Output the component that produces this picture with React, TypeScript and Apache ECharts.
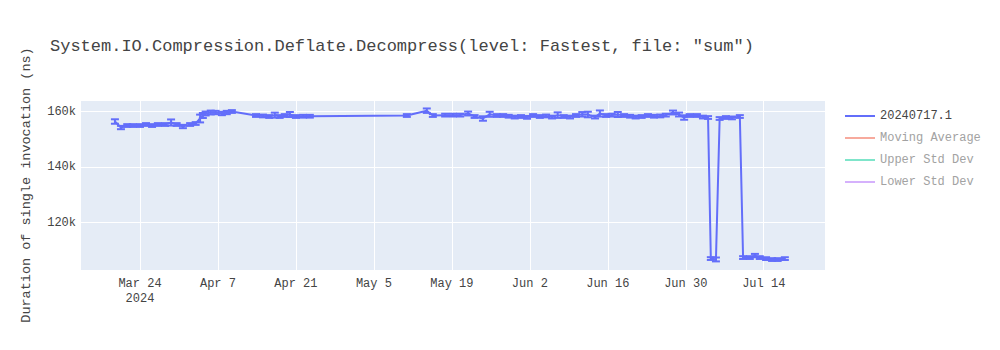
import React, { useEffect, useRef } from "react";
import * as echarts from "echarts";

// ---- data ----
const runDates: string[] = [
  "2024-03-19T12:00Z", "2024-03-20T14:00Z", "2024-03-21T17:00Z", "2024-03-22T17:00Z", "2024-03-24T00:00Z",
  "2024-03-25T02:00Z", "2024-03-26T04:00Z", "2024-03-27T05:00Z", "2024-03-28T12:00Z", "2024-03-29T14:00Z",
  "2024-03-30T14:00Z", "2024-03-31T17:00Z", "2024-04-02T00:00Z", "2024-04-03T00:00Z", "2024-04-03T19:00Z",
  "2024-04-04T07:00Z", "2024-04-04T19:00Z", "2024-04-05T17:00Z", "2024-04-06T14:00Z", "2024-04-07T17:00Z",
  "2024-04-08T14:00Z", "2024-04-09T12:00Z", "2024-04-13T20:00Z", "2024-04-15T02:00Z", "2024-04-16T05:00Z",
  "2024-04-17T05:00Z", "2024-04-18T02:00Z", "2024-04-19T00:00Z", "2024-04-19T22:00Z", "2024-04-21T00:00Z",
  "2024-04-22T07:00Z", "2024-04-23T12:00Z", "2024-05-10T22:00Z", "2024-05-14T12:00Z", "2024-05-15T14:00Z",
  "2024-05-17T19:00Z", "2024-05-19T05:00Z", "2024-05-20T12:00Z", "2024-05-21T22:00Z", "2024-05-23T02:00Z",
  "2024-05-24T14:00Z", "2024-05-25T19:00Z", "2024-05-27T02:00Z", "2024-05-28T05:00Z", "2024-05-29T05:00Z",
  "2024-05-30T07:00Z", "2024-05-31T10:00Z", "2024-06-01T12:00Z", "2024-06-02T14:00Z", "2024-06-03T19:00Z",
  "2024-06-04T22:00Z", "2024-06-06T00:00Z", "2024-06-07T00:00Z", "2024-06-08T02:00Z", "2024-06-09T05:00Z",
  "2024-06-10T07:00Z", "2024-06-11T10:00Z", "2024-06-12T10:00Z", "2024-06-13T17:00Z", "2024-06-14T14:00Z",
  "2024-06-15T17:00Z", "2024-06-16T17:00Z", "2024-06-17T19:00Z", "2024-06-18T22:00Z", "2024-06-20T00:00Z",
  "2024-06-21T00:00Z", "2024-06-22T02:00Z", "2024-06-23T05:00Z", "2024-06-24T07:00Z", "2024-06-25T10:00Z",
  "2024-06-26T10:00Z", "2024-06-27T17:00Z", "2024-06-28T19:00Z", "2024-06-29T17:00Z", "2024-06-30T17:00Z",
  "2024-07-02T00:00Z", "2024-07-03T02:00Z", "2024-07-04T00:00Z", "2024-07-04T12:00Z", "2024-07-05T10:00Z",
  "2024-07-06T02:00Z", "2024-07-07T05:00Z", "2024-07-08T07:00Z", "2024-07-09T17:00Z", "2024-07-10T07:00Z",
  "2024-07-11T12:00Z", "2024-07-12T10:00Z", "2024-07-13T07:00Z", "2024-07-14T10:00Z", "2024-07-15T12:00Z",
  "2024-07-16T12:00Z", "2024-07-17T19:00Z",
];

const durations: number[] = [
  156400, 154230, 154950, 154950, 154950,
  155320, 154950, 155320, 155320, 156040,
  155320, 154600, 155320, 155680, 157480,
  158560, 159280, 159640, 159640, 159280,
  159640, 160000, 158560, 158400, 158200,
  158700, 158200, 158560, 158920, 158200,
  158300, 158300, 158560, 160300, 158560,
  158700, 158700, 158700, 159280, 158200,
  157480, 159000, 158560, 158560, 158300,
  158000, 158200, 157900, 158560, 158200,
  158400, 158000, 158700, 158200, 158000,
  158560, 159000, 158920, 158000, 159280,
  158560, 158700, 158920, 158560, 158300,
  158000, 158200, 158560, 158300, 158400,
  158700, 159640, 158920, 157840, 158560,
  158560, 158000, 157840, 107020, 106700,
  157480, 157840, 157700, 158200, 107380,
  107380, 108100, 107380, 107000, 106660,
  106660, 107000,
];

const stdErrors: number[] = [
  800, 600, 500, 500, 500,
  500, 500, 500, 500, 1100,
  500, 600, 500, 500, 1400,
  900, 700, 700, 600, 600,
  600, 500, 500, 500, 500,
  900, 500, 500, 900, 500,
  500, 500, 500, 800, 500,
  500, 500, 500, 700, 500,
  800, 900, 500, 500, 500,
  500, 500, 500, 500, 500,
  500, 500, 1000, 500, 500,
  500, 800, 1000, 500, 1100,
  500, 500, 900, 500, 500,
  500, 500, 500, 500, 500,
  500, 700, 700, 800, 500,
  500, 500, 500, 500, 700,
  500, 500, 500, 500, 500,
  500, 600, 500, 500, 500,
  500, 500,
];

const seriesNames = ["20240717.1", "Moving Average", "Upper Std Dev", "Lower Std Dev"];
const seriesColors = ["#636efa", "#EF553B", "#00cc96", "#ab63fa"];
const xTickLabels = ["Mar 24\n2024", "Apr 7", "Apr 21", "May 5", "May 19", "Jun 2", "Jun 16", "Jun 30", "Jul 14"];
const xOrigin = "2024-03-24T00:00Z";
const xRangeStart = "2024-03-13T05:30Z";
const xRangeEnd = "2024-07-25T00:00Z";
const yRange = [102900, 164150];

const titleText = 'System.IO.Compression.Deflate.Decompress(level: Fastest, file: "sum")';
const yTitle = "Duration of single invocation (ns)";

const FORTNIGHT = 14 * 86400000;
const toFortnights = (s: string) => (Date.parse(s) - Date.parse(xOrigin)) / FORTNIGHT;

const FONT = "'Liberation Mono', 'DejaVu Sans Mono', monospace";

export default function App() {
  const ref = useRef<HTMLDivElement>(null);
  useEffect(() => {
    if (!ref.current) return;
    const chart = echarts.init(ref.current, undefined, { renderer: "svg" });
    const mainData = runDates.map((d, i) => [toFortnights(d), durations[i]]);
    const errData = runDates.map((d, i) => [toFortnights(d), durations[i] - stdErrors[i], durations[i] + stdErrors[i]]);

    chart.setOption({
      animation: false,
      backgroundColor: "#ffffff",
      title: {
        text: titleText,
        left: 45,
        top: 33,
        textStyle: { fontFamily: FONT, fontSize: 17, fontWeight: "normal", color: "#444" },
      },
      grid: {
        left: 80,
        right: 175,
        top: 100,
        bottom: 80,
        show: true,
        backgroundColor: "#e5ecf6",
        borderWidth: 0,
      },
      legend: {
        orient: "vertical",
        left: 840,
        top: 104,
        icon: "rect",
        itemWidth: 30,
        itemHeight: 2,
        itemGap: 8,
        textStyle: { fontFamily: FONT, fontSize: 12, color: "#444", lineHeight: 14 },
        data: seriesNames.map((n, i) =>
          i === 0
            ? { name: n }
            : { name: n, textStyle: { color: "#a2a2a2" }, itemStyle: { opacity: 0.5 } }
        ),
      },
      xAxis: {
        type: "value",
        min: toFortnights(xRangeStart),
        max: toFortnights(xRangeEnd),
        minInterval: 1,
        maxInterval: 1,
        splitNumber: 9,
        axisLine: { show: false },
        axisTick: { show: false },
        splitLine: { show: true, lineStyle: { color: "#ffffff", width: 1 } },
        axisLabel: {
          showMinLabel: false,
          showMaxLabel: false,
          margin: 6,
          lineHeight: 15,
          fontFamily: FONT,
          fontSize: 12,
          color: "#444",
          formatter: (v: number) => {
            const k = Math.round(v);
            if (Math.abs(v - k) > 1e-6) return "";
            return xTickLabels[k] ?? "";
          },
        },
      },
      yAxis: {
        type: "value",
        min: yRange[0],
        max: yRange[1],
        minInterval: 20000,
        maxInterval: 20000,
        splitNumber: 3,
        name: yTitle,
        nameLocation: "middle",
        nameGap: 47,
        nameTextStyle: { fontFamily: FONT, fontSize: 13.5, color: "#444" },
        axisLine: { show: false },
        axisTick: { show: false },
        splitLine: { show: true, lineStyle: { color: "#ffffff", width: 1 } },
        axisLabel: {
          showMinLabel: false,
          showMaxLabel: false,
          margin: 4,
          fontFamily: FONT,
          fontSize: 12,
          color: "#444",
          formatter: (v: number) => (v % 20000 === 0 ? v / 1000 + "k" : ""),
        },
      },
      series: [
        {
          name: seriesNames[0],
          type: "line",
          data: mainData,
          symbol: "none",
          lineStyle: { color: seriesColors[0], width: 2 },
          itemStyle: { color: seriesColors[0] },
          z: 3,
        },
        {
          name: "errors",
          type: "custom",
          data: errData,
          z: 2,
          renderItem: (params: any, api: any) => {
            const x = api.value(0);
            const lo = api.coord([x, api.value(1)]);
            const hi = api.coord([x, api.value(2)]);
            const hw = 4;
            const style = { stroke: seriesColors[0], lineWidth: 2 };
            return {
              type: "group",
              children: [
                { type: "line", shape: { x1: lo[0], y1: lo[1], x2: hi[0], y2: hi[1] }, style },
                { type: "line", shape: { x1: lo[0] - hw, y1: lo[1], x2: lo[0] + hw, y2: lo[1] }, style },
                { type: "line", shape: { x1: hi[0] - hw, y1: hi[1], x2: hi[0] + hw, y2: hi[1] }, style },
              ],
            };
          },
        },
        ...seriesNames.slice(1).map((n, i) => ({
          name: n,
          type: "line",
          data: [],
          symbol: "none",
          lineStyle: { color: seriesColors[i + 1], width: 2 },
          itemStyle: { color: seriesColors[i + 1] },
        })),
      ],
    });
    return () => chart.dispose();
  }, []);
  return <div ref={ref} style={{ width: 1000, height: 350, margin: -8 }} />;
}
